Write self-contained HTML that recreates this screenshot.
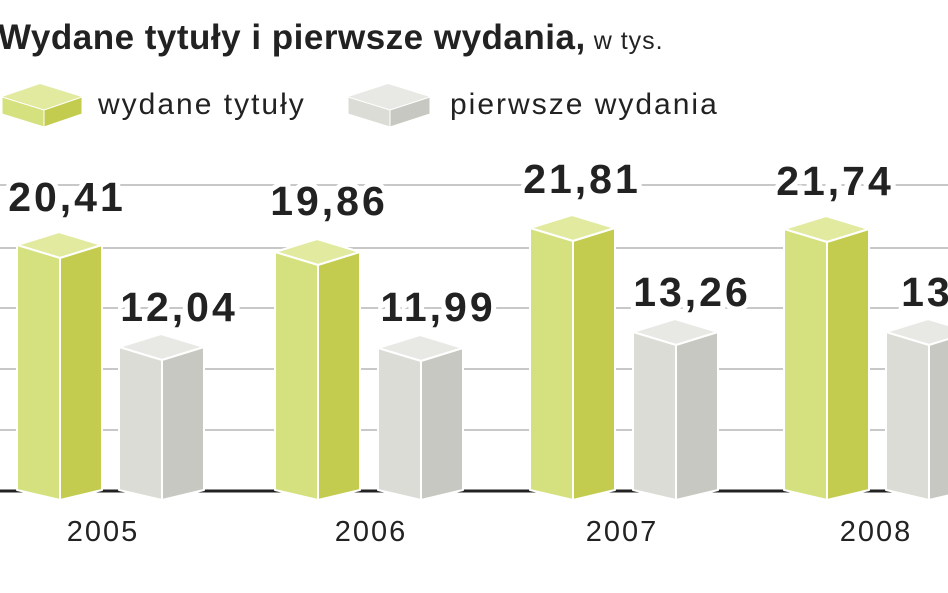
<!DOCTYPE html>
<html><head><meta charset="utf-8"><style>
html,body{margin:0;padding:0;background:#fff;}
svg{display:block;font-family:"Liberation Sans",sans-serif;}
.v{font-size:41px;font-weight:bold;fill:#222;letter-spacing:3px;text-anchor:middle;stroke:#fff;stroke-width:10px;paint-order:stroke;}
.y{font-size:29px;fill:#222;text-anchor:middle;letter-spacing:2px;}
</style></head><body>
<svg width="948" height="593" viewBox="0 0 948 593">
<text x="-2" y="49" font-size="35" font-weight="bold" fill="#222" letter-spacing="0.5">Wydane tytuły i pierwsze wydania,<tspan font-size="25" font-weight="normal" dx="8" letter-spacing="1">w tys.</tspan></text>
<!-- legend -->
<polygon points="2,97 40,84 82,97 44,110" fill="#e2eaa0"/>
<polygon points="2,97 44,110 44,127 2,114" fill="#d5e07e" stroke="#fff"/>
<polygon points="44,110 82,97 82,114 44,127" fill="#c3cc4f" stroke="#fff"/>
<text x="98" y="114" font-size="30" fill="#222" letter-spacing="2">wydane tytuły</text>
<polygon points="348,97 388,84 430,97 390,110" fill="#e8e8e4"/>
<polygon points="348,97 390,110 390,127 348,114" fill="#dcdcd6" stroke="#fff"/>
<polygon points="390,110 430,97 430,114 390,127" fill="#c8c8c2" stroke="#fff"/>
<text x="450" y="114" font-size="30" fill="#222" letter-spacing="2">pierwsze wydania</text>
<!-- grid -->
<g stroke="#c8c8c8" stroke-width="2">
<line x1="0" y1="185" x2="948" y2="185"/><line x1="0" y1="248" x2="948" y2="248"/>
<line x1="0" y1="308" x2="948" y2="308"/><line x1="0" y1="369" x2="948" y2="369"/>
<line x1="0" y1="430" x2="948" y2="430"/>
</g>
<line x1="0" y1="491" x2="948" y2="491" stroke="#222" stroke-width="3"/>
<!-- bars -->
<g stroke="#fff" stroke-width="2" stroke-linejoin="round">
<g transform="translate(17,0)"><polygon points="0,245 42,232 85,245 43,258" fill="#e2eaa0"/><polygon points="0,245 43,258 43,500 0,490" fill="#d5e07e"/><polygon points="43,258 85,245 85,490 43,500" fill="#c3cc4f"/></g>
<g transform="translate(119,0)"><polygon points="0,347 42,334 85,347 43,360" fill="#e8e8e4"/><polygon points="0,347 43,360 43,500 0,490" fill="#dcdcd6"/><polygon points="43,360 85,347 85,490 43,500" fill="#c8c8c2"/></g>
<g transform="translate(275,0)"><polygon points="0,252 42,239 85,252 43,265" fill="#e2eaa0"/><polygon points="0,252 43,265 43,500 0,490" fill="#d5e07e"/><polygon points="43,265 85,252 85,490 43,500" fill="#c3cc4f"/></g>
<g transform="translate(378,0)"><polygon points="0,348 42,335 85,348 43,361" fill="#e8e8e4"/><polygon points="0,348 43,361 43,500 0,490" fill="#dcdcd6"/><polygon points="43,361 85,348 85,490 43,500" fill="#c8c8c2"/></g>
<g transform="translate(530,0)"><polygon points="0,228 42,215 85,228 43,241" fill="#e2eaa0"/><polygon points="0,228 43,241 43,500 0,490" fill="#d5e07e"/><polygon points="43,241 85,228 85,490 43,500" fill="#c3cc4f"/></g>
<g transform="translate(633,0)"><polygon points="0,332 42,319 85,332 43,345" fill="#e8e8e4"/><polygon points="0,332 43,345 43,500 0,490" fill="#dcdcd6"/><polygon points="43,345 85,332 85,490 43,500" fill="#c8c8c2"/></g>
<g transform="translate(784,0)"><polygon points="0,229 42,216 85,229 43,242" fill="#e2eaa0"/><polygon points="0,229 43,242 43,500 0,490" fill="#d5e07e"/><polygon points="43,242 85,229 85,490 43,500" fill="#c3cc4f"/></g>
<g transform="translate(886,0)"><polygon points="0,332 42,319 85,332 43,345" fill="#e8e8e4"/><polygon points="0,332 43,345 43,500 0,490" fill="#dcdcd6"/><polygon points="43,345 85,332 85,490 43,500" fill="#c8c8c2"/></g>
</g>
<!-- values -->
<text class="v" x="67" y="211">20,41</text>
<text class="v" x="179" y="321">12,04</text>
<text class="v" x="329" y="215">19,86</text>
<text class="v" x="438" y="321">11,99</text>
<text class="v" x="582" y="193">21,81</text>
<text class="v" x="692" y="306">13,26</text>
<text class="v" x="835" y="195">21,74</text>
<text class="v" x="947" y="306">13,2</text>
<!-- years -->
<text class="y" x="103" y="541">2005</text>
<text class="y" x="371" y="541">2006</text>
<text class="y" x="622" y="541">2007</text>
<text class="y" x="876" y="541">2008</text>
</svg>
</body></html>
